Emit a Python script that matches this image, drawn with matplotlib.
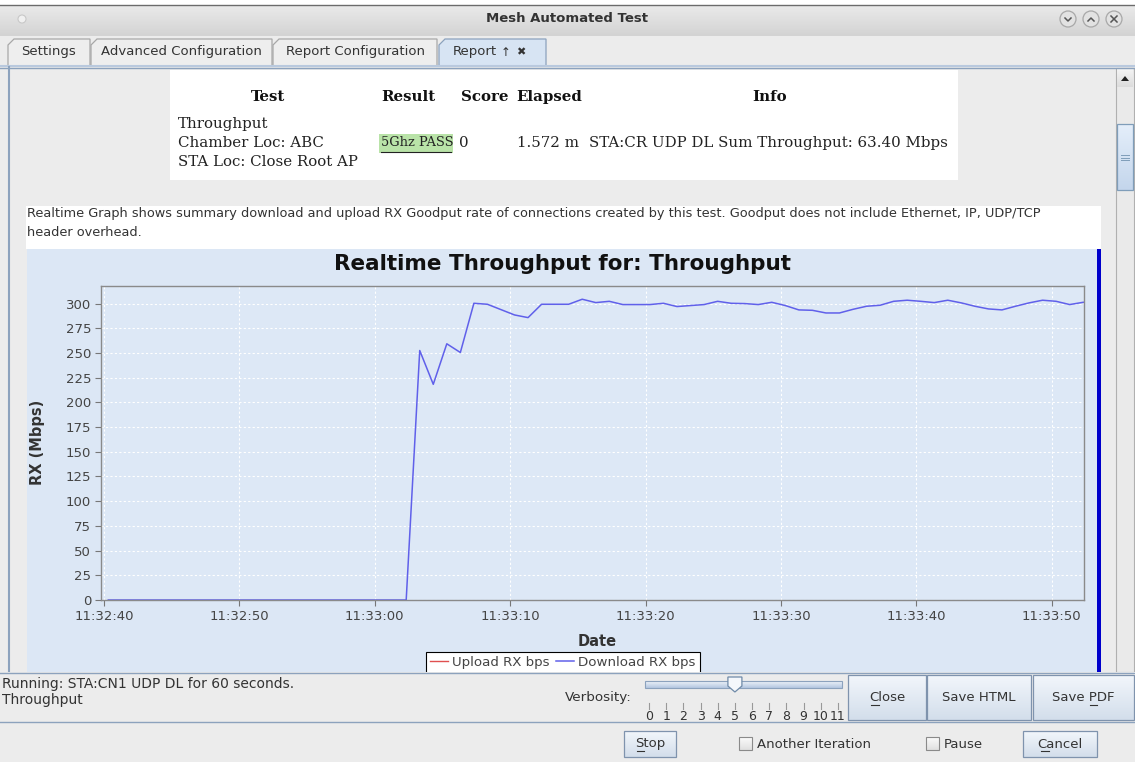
import matplotlib
matplotlib.use("Agg")
import matplotlib.pyplot as plt
import matplotlib.dates as mdates
import numpy as np
import pandas as pd
from matplotlib.patches import Rectangle, Polygon, Circle
from matplotlib.lines import Line2D

# ---------------- data ----------------
window_title = "Mesh Automated Test"
tab_labels = ["Settings", "Advanced Configuration", "Report Configuration", "Report"]
chart_title = "Realtime Throughput for: Throughput"
y_label = "RX (Mbps)"
x_label = "Date"
series_names = ["Upload RX bps", "Download RX bps"]

start_time = "2019-01-01 11:32:40.32"
sample_period_s = 1.0
x_range = ("2019-01-01 11:32:39.78", "2019-01-01 11:33:52.38")
y_range = (0, 318.3)
y_ticks = [0, 25, 50, 75, 100, 125, 150, 175, 200, 225, 250, 275, 300]

upload_mbps = []
download_mbps = [0] * 23 + [
    252.5, 218.3, 259.3, 250.5, 300.3, 299.3, 293.9, 288.5, 285.8, 299.3,
    299.3, 299.3, 304.4, 301.0, 302.3, 299.0, 299.0, 299.0, 300.3, 297.0,
    298.0, 299.0, 302.3, 300.3, 300.0, 299.0, 301.3, 298.0, 293.6, 293.2,
    290.5, 290.5, 294.2, 297.3, 298.3, 302.3, 303.4, 302.3, 301.0, 303.4,
    300.7, 297.3, 294.6, 293.6, 297.3, 300.7, 303.4, 302.3, 299.0, 301.3,
]

table_headers = ["Test", "Result", "Score", "Elapsed", "Info"]
table_test = ["Throughput", "Chamber Loc: ABC", "STA Loc: Close Root AP"]
table_result = "5Ghz PASS"
table_score = "0"
table_elapsed = "1.572 m"
table_info = "STA:CR UDP DL Sum Throughput: 63.40 Mbps"
description = ["Realtime Graph shows summary download and upload RX Goodput rate of connections created by this test. Goodput does not include Ethernet, IP, UDP/TCP",
               "header overhead."]
status_lines = ["Running: STA:CN1 UDP DL for 60 seconds.", "Throughput"]
verbosity_levels = list(range(12))
verbosity_value = 5

# ---------------- figure ----------------
W, H = 1135, 762
fig = plt.figure(figsize=(W / 100, H / 100), dpi=100)
fig.patch.set_facecolor("#ececec")


def make_layer(z):
    a = fig.add_axes([0, 0, 1, 1])
    a.set_xlim(0, W)
    a.set_ylim(H, 0)
    a.axis("off")
    a.set_zorder(z)
    a.patch.set_alpha(0)
    return a


back = make_layer(0)
front = make_layer(10)


def rect(a, x0, y0, x1, y1, fc, ec="none", lw=1.0, z=1):
    a.add_patch(Rectangle((x0, y0), x1 - x0, y1 - y0, facecolor=fc, edgecolor=ec, lw=lw, zorder=z))


def grad(a, x0, y0, x1, y1, c0, c1, z=1):
    c0 = np.array(matplotlib.colors.to_rgb(c0))
    c1 = np.array(matplotlib.colors.to_rgb(c1))
    t = np.linspace(0, 1, 32)[:, None, None]
    img = c0 * (1 - t) + c1 * t
    a.imshow(img, extent=(x0, x1, y1, y0), aspect="auto", interpolation="bilinear", zorder=z)
    a.set_xlim(0, W)
    a.set_ylim(H, 0)


def txt(a, x, y, s, size=9.5, ha="left", va="center", color="#333333", weight="normal", family="DejaVu Sans", z=3, **kw):
    return a.text(x, y, s, fontsize=size, ha=ha, va=va, color=color, fontweight=weight, family=family, zorder=z, **kw)


# window title bar
rect(back, 0, 0, W, 5, "white", z=0.5)
grad(back, 0, 5, W, 36, "#eaeaea", "#d3d3d3")
back.add_line(Line2D([0, W], [5, 5], color="#6b6b6b", lw=1.0, zorder=2))
txt(back, W / 2, 19, window_title, size=9.5, ha="center", weight="bold", color="#333333")
back.add_patch(Circle((22, 19), 4, facecolor="#f0f0f0", edgecolor="#c8c8c8", lw=0.8, zorder=3))
for cx, kind in [(1068, "down"), (1091, "up"), (1114, "x")]:
    back.add_patch(Circle((cx, 19), 8, facecolor="#e2e2e2", edgecolor="#a8a8a8", lw=0.9, zorder=3))
    if kind == "down":
        back.add_line(Line2D([cx - 3, cx, cx + 3], [18, 21, 18], color="#555", lw=1.1, zorder=4))
    elif kind == "up":
        back.add_line(Line2D([cx - 3, cx, cx + 3], [21, 18, 21], color="#555", lw=1.1, zorder=4))
    else:
        back.add_line(Line2D([cx - 3, cx + 3], [16, 22], color="#555", lw=1.1, zorder=4))
        back.add_line(Line2D([cx - 3, cx + 3], [22, 16], color="#555", lw=1.1, zorder=4))

# tabs
tab_spans = [(8, 90), (91, 272), (273, 437), (439, 546)]
for i, ((x0, x1), lab) in enumerate(zip(tab_spans, tab_labels)):
    sel = i == 3
    back.add_patch(Polygon([(x0, 66), (x0, 45), (x0 + 6, 39), (x1, 39), (x1, 66)],
                           closed=True, facecolor="#d7e4f3" if sel else "#eeeeee",
                           edgecolor="#8ca2bd" if sel else "#a8a8a8", lw=0.9, zorder=2))
    if sel:
        txt(back, x0 + 14, 52, lab, size=9.5)
        txt(back, x0 + 62, 52, "\u2191", size=8.5)
        txt(back, x0 + 77, 52, "\u2716", size=8)
    else:
        txt(back, (x0 + x1) / 2, 52, lab, size=9.5, ha="center")
back.add_line(Line2D([0, W], [65.5, 65.5], color="#b9c9de", lw=1.5, zorder=3))
back.add_line(Line2D([0, W], [67.5, 67.5], color="#8ca2bd", lw=1.0, zorder=3))

# content area
back.add_line(Line2D([9, 9], [67, 672], color="#8ca2bd", lw=1.5, zorder=3))

# report table
SF = 10.8
rect(back, 170, 70, 958, 180, "white")
hx = [268, 408, 485, 549, 770]
for x, h in zip(hx, table_headers):
    txt(back, x, 97, h, size=SF, ha="center", weight="bold", family="DejaVu Serif", color="#111111")
for j, s in enumerate(table_test):
    txt(back, 178, 124 + 19 * j, s, size=SF, family="DejaVu Serif", color="#222222")
rect(back, 379, 134, 453, 153, "#b9e3a8")
txt(back, 381, 143, table_result, size=9.4, family="DejaVu Serif", color="#222222")
back.add_line(Line2D([381, 451], [151.5, 151.5], color="#222222", lw=0.8, zorder=4))
txt(back, 459, 143, table_score, size=SF, family="DejaVu Serif", color="#222222")
txt(back, 517, 143, table_elapsed, size=SF, family="DejaVu Serif", color="#222222")
txt(back, 589, 143, table_info, size=SF, family="DejaVu Serif", color="#222222")

# description
rect(back, 26, 206, 1101, 249, "white")
txt(back, 27, 214, description[0], size=9.3)
txt(back, 27, 232, description[1], size=9.3)

# chart panel
rect(back, 27, 249, 1097, 672, "#dce7f5")
rect(back, 1097, 249, 1101, 672, "#0000cc")

# scrollbar
rect(back, 1116, 68, 1134, 672, "#eaeaea", ec="#b0b0b0", lw=0.8)
grad(back, 1117, 69, 1133, 87, "#f4f4f4", "#dcdcdc", z=2)
back.add_patch(Polygon([(1121, 81), (1125, 76), (1129, 81)], closed=True, fc="#222", ec="none", zorder=3))
grad(back, 1117, 124, 1133, 190, "#e4eefa", "#c4d6ec", z=2)
rect(back, 1117, 124, 1133, 190, "none", ec="#7f9db9", lw=0.9, z=3)
for yy in (155, 157.5, 160):
    back.add_line(Line2D([1121, 1129], [yy, yy], color="#7f9db9", lw=0.7, zorder=4))

# ---------------- chart ----------------
ax_left, ax_right, ax_top, ax_bottom = 101, 1084, 285.5, 600
ax = fig.add_axes([ax_left / W, 1 - ax_bottom / H, (ax_right - ax_left) / W, (ax_bottom - ax_top) / H])
ax.set_zorder(5)
ax.set_facecolor("#dde8f6")

times = pd.to_datetime(start_time) + pd.to_timedelta(np.arange(len(download_mbps)) * sample_period_s, unit="s")
ax.plot([], [], color="#e05050", lw=1.0, label=series_names[0])
ax.plot(times, download_mbps, color="#6060ea", lw=1.1, label=series_names[1], zorder=2)

ax.set_xlim(pd.to_datetime(x_range[0]), pd.to_datetime(x_range[1]))
ax.set_ylim(*y_range)
ax.set_yticks(y_ticks)
ax.xaxis.set_major_locator(mdates.SecondLocator(bysecond=range(0, 60, 10)))
ax.xaxis.set_major_formatter(mdates.DateFormatter("%H:%M:%S"))
ax.tick_params(axis="both", colors="#777777", labelcolor="#444444", length=4, width=0.8)
ax.tick_params(axis="x", labelsize=9.5, pad=3)
ax.tick_params(axis="y", labelsize=9.5, pad=3)
ax.grid(True, color="white", lw=0.8, ls=(0, (2, 2)))
ax.set_axisbelow(True)
for sp in ax.spines.values():
    sp.set_color("#8a8a8a")
    sp.set_linewidth(1.0)
    sp.set_zorder(3)

ax.set_ylabel(y_label, fontsize=10.5, fontweight="bold", color="#333333")
ax.yaxis.set_label_coords((45 - ax_left) / (ax_right - ax_left), 0.5)
ax.set_xlabel(x_label, fontsize=10.5, fontweight="bold", color="#333333")
ax.xaxis.set_label_coords((597 - ax_left) / (ax_right - ax_left), (ax_bottom - 634) / (ax_bottom - ax_top))
ax.text((562 - ax_left) / (ax_right - ax_left), (ax_bottom - 264) / (ax_bottom - ax_top), chart_title,
        transform=ax.transAxes, ha="center", va="center", fontsize=15.5, fontweight="bold", color="#111111")

leg = ax.legend(loc="upper center", ncol=2, fontsize=9.6,
                bbox_to_anchor=((563 - ax_left) / (ax_right - ax_left), (ax_bottom - 652) / (ax_bottom - ax_top)),
                frameon=True, fancybox=False, edgecolor="black", framealpha=1.0,
                handlelength=1.3, handletextpad=0.35, columnspacing=0.5, borderpad=0.3, borderaxespad=0)
leg.get_frame().set_linewidth(0.8)
for t in leg.get_texts():
    t.set_color("#444444")

# ---------------- bottom panels (front layer) ----------------
rect(front, 0, 672, W, 722, "#ececec")
front.add_line(Line2D([0, W], [672.5, 672.5], color="#8ca2bd", lw=1.0, zorder=3))
front.add_line(Line2D([0, W], [721.5, 721.5], color="#8ca2bd", lw=1.0, zorder=3))
rect(front, 0, 722, W, H, "#ececec")
txt(front, 2, 684, status_lines[0], size=10)
txt(front, 2, 700, status_lines[1], size=10)

# verbosity slider
txt(front, 632, 697, "Verbosity:", size=9.7, ha="right")
grad(front, 645, 681, 842, 688, "#eef3fa", "#b4c7e0", z=2)
rect(front, 645, 681, 842, 688, "none", ec="#8ca2bd", lw=0.8, z=3)
sx0, sx1 = 649, 838
step = (sx1 - sx0) / (len(verbosity_levels) - 1)
for lv in verbosity_levels:
    xx = sx0 + lv * step
    front.add_line(Line2D([xx, xx], [703, 709], color="#999999", lw=0.8, zorder=3))
    txt(front, xx, 717, str(lv), size=9, ha="center")
tx = sx0 + verbosity_value * step
front.add_patch(Polygon([(tx - 7, 677), (tx + 7, 677), (tx + 7, 686), (tx, 692), (tx - 7, 686)], closed=True,
                        facecolor="#f4f7fb", edgecolor="#6f8aa8", lw=0.9, zorder=4))


def button(a, x0, y0, x1, y1, label, ul=None):
    grad(a, x0, y0, x1, y1, "#f2f6fb", "#d3deeb", z=2)
    rect(a, x0, y0, x1, y1, "none", ec="#7f93ad", lw=0.9, z=3)
    t = txt(a, (x0 + x1) / 2, (y0 + y1) / 2, label, size=9.5, ha="center")
    if ul is not None:
        ux0, ux1 = ul
        a.add_line(Line2D([ux0, ux1], [(y0 + y1) / 2 + 7, (y0 + y1) / 2 + 7], color="#333", lw=0.8, zorder=4))
    return t


button(front, 848, 675, 926, 720, "Close", ul=(871, 879))
button(front, 927, 675, 1031, 720, "Save HTML")
button(front, 1033, 675, 1134, 720, "Save PDF", ul=(1090, 1097))
button(front, 624, 731, 676, 757, "Stop", ul=(637, 644))
button(front, 1023, 731, 1097, 757, "Cancel", ul=(1041, 1049))
for bx, lab in [(739, "Another Iteration"), (926, "Pause")]:
    grad(front, bx, 737, bx + 13, 750, "#fbfbfb", "#e0e0e0", z=2)
    rect(front, bx, 737, bx + 13, 750, "none", ec="#8a8a8a", lw=0.8, z=3)
    txt(front, bx + 18, 744, lab, size=9.5)

fig.savefig("out.png", dpi=100, facecolor=fig.get_facecolor())
